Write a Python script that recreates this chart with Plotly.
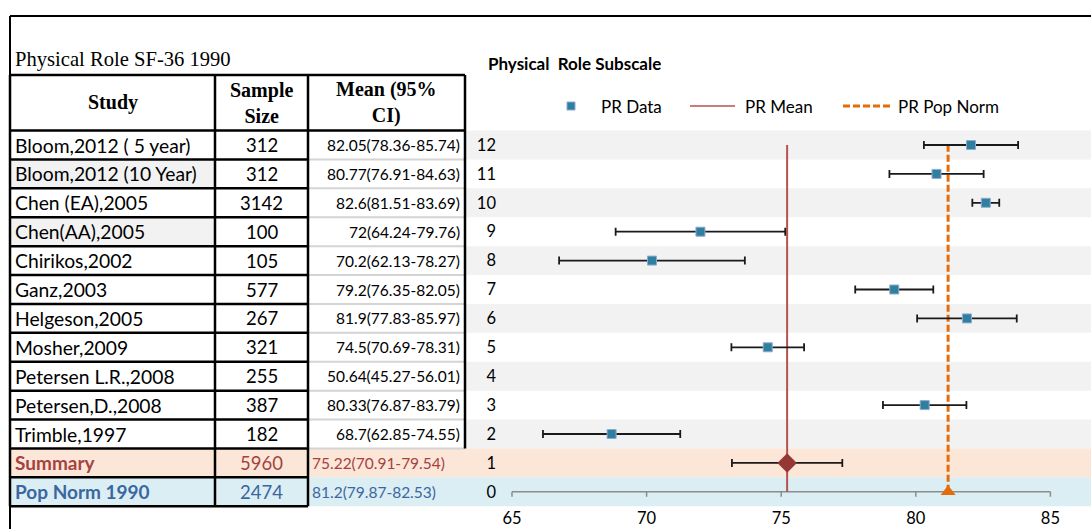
import plotly.graph_objects as go

# ---------------- data ----------------
studies = ["Bloom,2012 ( 5 year)", "Bloom,2012 (10 Year)", "Chen (EA),2005", "Chen(AA),2005",
           "Chirikos,2002", "Ganz,2003", "Helgeson,2005", "Mosher,2009",
           "Petersen L.R.,2008", "Petersen,D.,2008", "Trimble,1997"]
sample_sizes = [312, 312, 3142, 100, 105, 577, 267, 321, 255, 387, 182]
mean_ci_text = ["82.05(78.36-85.74)", "80.77(76.91-84.63)", "82.6(81.51-83.69)", "72(64.24-79.76)",
                "70.2(62.13-78.27)", "79.2(76.35-82.05)", "81.9(77.83-85.97)", "74.5(70.69-78.31)",
                "50.64(45.27-56.01)", "80.33(76.87-83.79)", "68.7(62.85-74.55)"]
pr_means = [82.05, 80.77, 82.6, 72, 70.2, 79.2, 81.9, 74.5, 50.64, 80.33, 68.7]
pr_err = [1.75, 1.75, 0.5, 3.15, 3.45, 1.45, 1.85, 1.35, 2.7, 1.55, 2.55]
row_ids = [12, 11, 10, 9, 8, 7, 6, 5, 4, 3, 2]

summary_label = "Summary"
summary_n = 5960
summary_mean = 75.22
summary_err = 2.05
summary_text = "75.22(70.91-79.54)"
summary_row = 1

popnorm_label = "Pop Norm 1990"
popnorm_n = 2474
popnorm_mean = 81.2
popnorm_text = "81.2(79.87-82.53)"
popnorm_row = 0

line_rows = [0, 12]
axis_span = [65, 85]
x_ticks = [65, 70, 75, 80, 85]
y_ticks = list(range(0, 13))
gray_rows = [12, 10, 8, 6, 4, 2]
study_gray_rows = [11, 9]

table_title = "Physical Role SF-36 1990"
chart_title = "Physical\u00a0 Role Subscale"
legend_names = ["PR Data", "PR Mean", "PR Pop Norm"]

# ---------------- layout helpers ----------------
W, H = 1091, 529
Y0, RH = 491.8, 28.9          # pixel y of row 0 and row height
X65, PXU = 512.0, 26.92       # pixel x of value 65 and px per unit
PLOT_L = 497.0

def ypx(v):
    return Y0 - RH * v

def px(x):
    return x / W

def py(y):
    return 1 - y / H

SANS = "Lato"
SERIF = "Liberation Serif"
TEAL = "#2F7F9E"
RED = "#B5524F"
DRED = "#953735"
ORANGE = "#E46C0A"
PEACH = "#FCE6D8"
LBLUE = "#DBEEF3"
GRAY = "#F2F2F2"
SUMTXT = "#A5423F"
POPTXT = "#3A67A0"

fig = go.Figure()

# axis line + ticks (data coordinates)
fig.add_trace(go.Scatter(x=axis_span, y=[0, 0], mode="lines",
                         line=dict(color="#8C8C8C", width=1.5), hoverinfo="skip", showlegend=False))
tdy = 5 / RH
tx, ty = [], []
for t in x_ticks:
    tx += [t, t, None]
    ty += [0, -tdy, None]
fig.add_trace(go.Scatter(x=tx, y=ty, mode="lines", line=dict(color="#8C8C8C", width=1.5),
                         hoverinfo="skip", showlegend=False))

# vertical reference lines
fig.add_trace(go.Scatter(x=[summary_mean] * 2, y=line_rows, mode="lines", name=legend_names[1],
                         line=dict(color=RED, width=2), showlegend=False))
fig.add_trace(go.Scatter(x=[popnorm_mean] * 2, y=line_rows, mode="lines", name=legend_names[2],
                         line=dict(color=ORANGE, width=3, dash="7px,3px"), showlegend=False))

# study points
fig.add_trace(go.Scatter(x=pr_means, y=row_ids, mode="markers", name=legend_names[0],
                         marker=dict(symbol="square", size=9, color=TEAL,
                                     line=dict(color="#8FAAD2", width=1)),
                         error_x=dict(type="data", array=pr_err, color="#1A1A1A", thickness=1.8, width=4),
                         showlegend=False))
# summary
fig.add_trace(go.Scatter(x=[summary_mean], y=[summary_row], mode="markers",
                         marker=dict(symbol="diamond", size=15, color=DRED),
                         error_x=dict(type="data", array=[summary_err], color="#1A1A1A", thickness=1.8, width=4),
                         showlegend=False))
# pop norm point
fig.add_trace(go.Scatter(x=[popnorm_mean], y=[popnorm_row], mode="markers",
                         marker=dict(symbol="triangle-up", size=13, color=ORANGE),
                         showlegend=False))

shapes = []
ann = []

def rect(x0, y0, x1, y1, fill):
    shapes.append(dict(type="rect", xref="paper", yref="paper", x0=px(x0), x1=px(x1),
                       y0=py(y0), y1=py(y1), fillcolor=fill, line=dict(width=0), layer="below"))

def seg(x0, y0, x1, y1, color="black", width=2.5, dash=None):
    ln = dict(color=color, width=width)
    if dash:
        ln["dash"] = dash
    shapes.append(dict(type="line", xref="paper", yref="paper", x0=px(x0), x1=px(x1),
                       y0=py(y0), y1=py(y1), line=ln, layer="above"))

def text(x, y, s, size, color="black", family=SANS, xanchor="left", bold=False):
    if bold:
        s = "<b>" + s + "</b>"
    ann.append(dict(x=px(x), y=py(y), xref="paper", yref="paper", text=s, showarrow=False,
                    xanchor=xanchor, yanchor="middle", align=xanchor if xanchor != "center" else "center",
                    font=dict(size=size, color=color, family=family)))

# fills
TL, C1, C2, TR, TT = 10, 215, 308, 465, 75
for v in gray_rows:
    rect(466, ypx(v + 0.5), W, ypx(v - 0.5), GRAY)
for v in study_gray_rows:
    rect(TL, ypx(v + 0.5), C1, ypx(v - 0.5), GRAY)
rect(TL, ypx(summary_row + 0.5), W, ypx(summary_row - 0.5), PEACH)
rect(TL, ypx(popnorm_row + 0.5), W, ypx(popnorm_row - 0.5), LBLUE)

# frame
seg(10, 16, W, 16, width=2)
seg(10, 16, 10, H, width=2)

# table grid
for i in range(len(row_ids)):
    b = row_ids[i] - 0.5
    if b > summary_row:
        seg(C2, ypx(b), TR, ypx(b), color="#D4D4D4", width=2)
HB = ypx(12.5)
BOT = ypx(-0.5)
for b in [r - 0.5 for r in row_ids] + [0.5, -0.5]:
    seg(TL, ypx(b), C2, ypx(b))
seg(TL, TT, TR, TT)
seg(TL, HB, TR, HB)
seg(TL, TT, TL, BOT)
seg(C1, TT, C1, BOT)
seg(C2, TT, C2, BOT)
seg(TR, TT, TR, ypx(1.5))

# table texts
text(13, 60, table_title, 20.6, family=SERIF)
text((TL + C1) / 2, 103, "Study", 20, family=SERIF, xanchor="center", bold=True)
text((C1 + C2) / 2, 103, "Sample<br>Size", 20, family=SERIF, xanchor="center", bold=True)
text((C2 + TR) / 2, 103, "Mean (95%<br>CI)", 20, family=SERIF, xanchor="center", bold=True)
for s, n, m, r in zip(studies, sample_sizes, mean_ci_text, row_ids):
    yy = ypx(r)
    text(13, yy, s, 19.3)
    text((C1 + C2) / 2, yy, str(n), 18.5, xanchor="center")
    text(462, yy, m, 15.5, xanchor="right")
yy = ypx(summary_row)
text(13, yy, summary_label, 19, color=SUMTXT, bold=True)
text((C1 + C2) / 2, yy, str(summary_n), 18.5, color=SUMTXT, xanchor="center")
text(310, yy, summary_text, 15.5, color=SUMTXT)
yy = ypx(popnorm_row)
text(13, yy, popnorm_label, 19, color=POPTXT, bold=True)
text((C1 + C2) / 2, yy, str(popnorm_n), 18.5, color=POPTXT, xanchor="center")
text(310, yy, popnorm_text, 15.5, color=POPTXT)

# chart title and legend
text(486, 63, chart_title, 17, bold=True)
LY = 106
shapes.append(dict(type="rect", xref="paper", yref="paper", x0=px(567), x1=px(575), y0=py(110), y1=py(102),
                   fillcolor=TEAL, line=dict(color="#8FAAD2", width=1), layer="above"))
text(599, LY, legend_names[0], 17)
seg(690, LY, 735, LY, color=RED, width=1.5)
text(743, LY, legend_names[1], 17)
seg(843, LY, 890, LY, color=ORANGE, width=3, dash="7px,3px")
text(896, LY, legend_names[2], 17)

fig.update_layout(
    width=W, height=H, margin=dict(l=0, r=0, t=0, b=0, pad=0),
    paper_bgcolor="white", plot_bgcolor="rgba(0,0,0,0)",
    showlegend=False, shapes=shapes, annotations=ann,
    xaxis=dict(domain=[px(PLOT_L), 1], range=[65 - (X65 - PLOT_L) / PXU, 65 + (W - X65) / PXU],
               tickvals=x_ticks, ticks="", showgrid=False, zeroline=False, showline=False,
               tickfont=dict(family=SANS, size=16.5, color="black")),
    yaxis=dict(domain=[py(ypx(-0.5)), py(ypx(12.5))], range=[-0.5, 12.5],
               tickvals=y_ticks, ticks="", showgrid=False, zeroline=False, showline=False,
               tickfont=dict(family=SANS, size=16.5, color="black")),
)

fig.write_html("out.html")
